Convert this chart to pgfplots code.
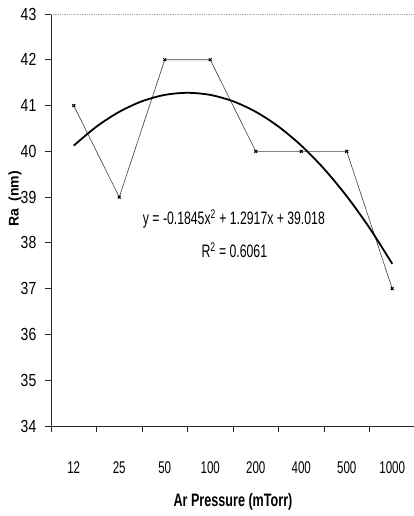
\documentclass[border=0pt]{standalone}
\usepackage{pgfplots}
\pgfplotsset{compat=1.18}
\usepackage{graphicx}
\usepackage{fontspec}
\setmainfont{Liberation Sans}
\newfontfamily\xnarrow{Liberation Sans}[FakeStretch=0.68]
\newfontfamily\ynarrow{Liberation Sans}[FakeStretch=0.8]
\newfontfamily\eqnarrow{Liberation Sans}[FakeStretch=0.68]
\newfontfamily\lblnarrow{Liberation Sans}[FakeStretch=0.7]
\begin{document}
\begin{tikzpicture}
\begin{axis}[
  scale only axis,
  width=364pt, height=412pt,
  xmin=0.5, xmax=8.5,
  ymin=34, ymax=43,
  ytick={34,35,...,43},
  xtick={0.5,1.5,...,8.5},
  x tick label as interval,
  xticklabels={12,25,50,100,200,400,500,1000},
  axis x line*=bottom,
  axis y line*=left,
  axis line style={black!85, line width=0.8pt},
  tick style={black!85, line width=0.8pt},
  tick align=outside,
  major tick length=5.5pt,
  /pgf/number format/assume math mode=true,
  xticklabel style={font=\xnarrow\fontsize{17pt}{19pt}\selectfont, anchor=center, yshift=-36pt, inner sep=0pt},
  yticklabel style={font=\ynarrow\fontsize{17.5pt}{19pt}\selectfont, anchor=east, inner sep=0pt, xshift=-9pt},
  xlabel={Ar Pressure (mTorr)},
  xlabel style={font=\lblnarrow\bfseries\fontsize{18pt}{20pt}\selectfont, at={(rel axis cs:0.5,0)}, anchor=center, yshift=-76pt},
  clip=false,
]
\draw[densely dotted, black!35, line width=0.8pt] (rel axis cs:0,1) -- (rel axis cs:1,1);
\addplot[black!75, line width=0.6pt, mark=x, mark size=2pt, mark options={black, line width=1pt}] coordinates {
  (1,41) (2,39) (3,42) (4,42) (5,40) (6,40) (7,40) (8,37)
};
\addplot[black, line width=1.8pt, smooth] coordinates {
  (1,40.1252) (1.5,40.5404) (2,40.8634) (2.5,41.0941) (3,41.2326) (3.5,41.2788)
  (4,41.2328) (4.5,41.0945) (5,40.8640) (5.5,40.5412) (6,40.1262) (6.5,39.6189)
  (7,39.0194) (7.5,38.3276) (8,37.5436)
};
\node[font=\eqnarrow\fontsize{18pt}{20pt}\selectfont, inner sep=0pt] at (axis cs:4.52,38.52) {y = -0.1845x\textsuperscript{2} + 1.2917x + 39.018};
\node[font=\eqnarrow\fontsize{18pt}{20pt}\selectfont, inner sep=0pt] at (axis cs:4.53,37.84) {R\textsuperscript{2} = 0.6061};
\node[inner sep=0pt, xshift=-36pt] at (rel axis cs:0,0.551) {\rotatebox{90}{\bfseries\fontsize{14pt}{16pt}\selectfont Ra\ \ (nm)}};
\end{axis}
\pgfresetboundingbox
\useasboundingbox (-51pt,-90pt) rectangle (362pt,426pt);
\end{tikzpicture}
\end{document}
